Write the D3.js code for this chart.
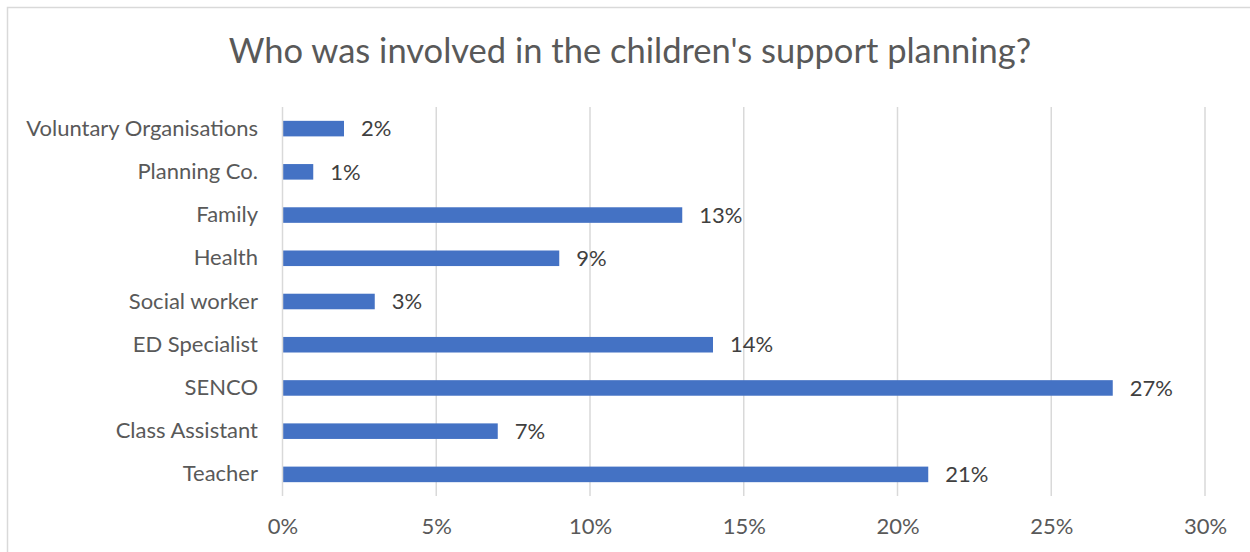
<!DOCTYPE html>
<html><head><meta charset="utf-8">
<script src="https://cdn.jsdelivr.net/npm/d3@7"></script>
<style>body{margin:0;background:#fff}svg{display:block}</style>
</head><body>
<svg id="c" width="1250" height="552"></svg>
<script>
const categories = ["Voluntary Organisations","Planning Co.","Family","Health","Social worker","ED Specialist","SENCO","Class Assistant","Teacher"];
const values = [0.02,0.01,0.13,0.09,0.03,0.14,0.27,0.07,0.21];
const ticks = [0,0.05,0.10,0.15,0.20,0.25,0.30];
const title = "Who was involved in the children's support planning?";

const svg = d3.select("#c");
const font = "Lato, 'Open Sans', sans-serif";
svg.append("rect").attr("x",7.5).attr("y",7.5).attr("width",1250).attr("height",560)
  .attr("fill","#fff").attr("stroke","#d9d9d9").attr("stroke-width",1.5);

const x = d3.scaleLinear().domain([0,0.30]).range([282.5,1205]);
const y = d3.scaleBand().domain(categories).range([107,496]).paddingInner(0.64).paddingOuter(0.32);

svg.append("text").attr("x",630).attr("y",63).attr("text-anchor","middle")
  .attr("font-family",font).attr("font-size",34.5).attr("fill","#595959").text(title);

const grid = svg.append("g");
grid.selectAll("line").data(ticks.slice(1)).join("line")
  .attr("x1",d=>x(d)).attr("x2",d=>x(d)).attr("y1",107).attr("y2",496)
  .attr("stroke","#d9d9d9").attr("stroke-width",1.5);

svg.append("g").selectAll("rect").data(values).join("rect")
  .attr("x",x(0)).attr("y",(d,i)=>y(categories[i]))
  .attr("width",d=>x(d)-x(0)).attr("height",y.bandwidth()).attr("fill","#4472c4");

svg.append("line").attr("x1",x(0)).attr("x2",x(0)).attr("y1",107).attr("y2",496)
  .attr("stroke","#d9d9d9").attr("stroke-width",1.5);

svg.append("g").selectAll("text").data(values).join("text")
  .attr("x",d=>x(d)+17).attr("y",(d,i)=>y(categories[i])+y.bandwidth()/2).attr("dy","0.35em")
  .attr("font-family",font).attr("font-size",22).attr("fill","#404040")
  .text(d=>d3.format(".0%")(d));

const xAxis = d3.axisBottom(x).tickValues(ticks).tickFormat(d3.format(".0%")).tickSize(0).tickPadding(0);
const gx = svg.append("g").attr("transform","translate(0,520)").call(xAxis);
gx.select(".domain").remove();
gx.selectAll("text").attr("font-family",font).attr("font-size",22).attr("fill","#595959").attr("dy","0.35em").attr("y",6);

const yAxis = d3.axisLeft(y).tickSize(0).tickPadding(0);
const gy = svg.append("g").attr("transform","translate(258,0)").call(yAxis);
gy.select(".domain").remove();
gy.selectAll("text").attr("font-family",font).attr("font-size",22).attr("fill","#595959");
</script>
</body></html>
